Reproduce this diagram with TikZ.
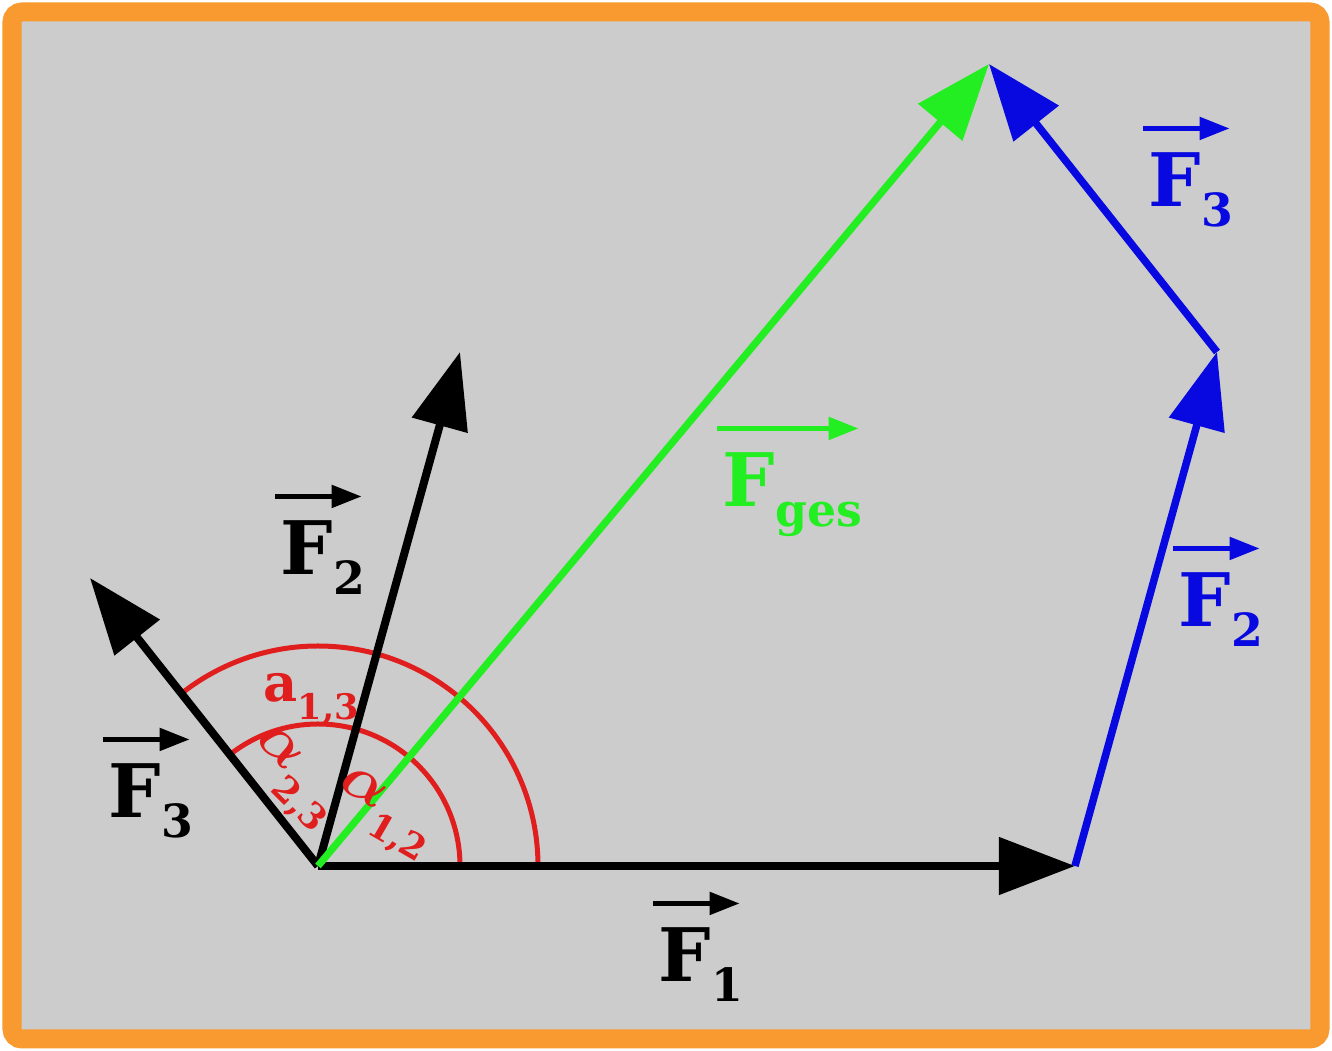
\documentclass[tikz,border=0pt]{standalone}
\usepackage{bm}
\usepackage{fontspec}
\setmainfont{DejaVu Serif}
\usetikzlibrary{arrows.meta}
\definecolor{frameOrange}{HTML}{F89A30}
\definecolor{paperGray}{HTML}{CCCCCC}
\definecolor{forceGreen}{HTML}{22EE22}
\definecolor{forceBlue}{HTML}{0808E0}
\definecolor{angleRed}{HTML}{E01E1E}
\newcommand{\forcename}[1]{F\raisebox{-5.5pt}{\fontsize{13}{13}\selectfont #1}}
\newcommand{\anglename}[3]{#1\raisebox{#3}{\fontsize{10}{10}\selectfont #2}}

\begin{document}
\begin{tikzpicture}[x=0.01cm, y=0.01cm,
    force/.style={line width=0.08cm, -{Triangle[length=0.76cm, width=0.56cm]}},
    forcelabel/.style={anchor=base west, inner sep=0pt, font=\fontsize{21}{24}\selectfont\bfseries},
    labelarrow/.style={line width=0.05cm, -{Triangle[length=0.3cm, width=0.22cm]}},
    anglearc/.style={angleRed, line width=0.05cm},
    anglelabel/.style={text=angleRed, inner sep=0pt, font=\bfseries}]
    \useasboundingbox (0,0) rectangle (1332,1051);
    \draw[frameOrange, line width=0.19cm, fill=paperGray, rounded corners=0.1cm] (12,12) rectangle (1320,1039);

    % vector ends
    \coordinate (O) at (318,185);
    \coordinate (F1tip) at (1075,185);
    \coordinate (F2tip) at (460,699);
    \coordinate (F3tip) at (90,473);
    \coordinate (C2) at (1217,699);
    \coordinate (Top) at (989,987);

    % angle arcs
    \draw[anglearc] ([shift={(0:142)}]O) arc[start angle=0, end angle=128.4, radius=142];
    \draw[anglearc] ([shift={(0:220)}]O) arc[start angle=0, end angle=128.4, radius=220];

    % forces at the origin
    \draw[force] (O) -- (F1tip);
    \draw[force] (O) -- (F2tip);
    \draw[force] (O) -- (F3tip);
    \draw[force, forceGreen, line width=0.072cm] (O) -- (Top);

    % polygon of forces
    \draw[force, forceBlue, line width=0.075cm] (F1tip) -- (C2);
    \draw[force, forceBlue, line width=0.075cm] (C2) -- (Top);

    % labels
    \node[forcelabel] (lF1) at (658,69) {\forcename{1}};
    \node[forcelabel] (lF2) at (280,476) {\forcename{2}};
    \node[forcelabel] (lF3) at (108,233) {\forcename{3}};
    \node[forcelabel, text=forceGreen] (lFges) at (722,544) {\forcename{ges}};
    \node[forcelabel, text=forceBlue] (lF3b) at (1148,844) {\forcename{3}};
    \node[forcelabel, text=forceBlue] (lF2b) at (1178,424) {\forcename{2}};
    \foreach \n/\c in {lF1/black, lF2/black, lF3/black, lFges/forceGreen, lF3b/forceBlue, lF2b/forceBlue}{
      \draw[labelarrow, \c] ([shift={(-5,24)}]\n.north west) -- ([shift={(-4,24)}]\n.north east);
    }

    \node[anglelabel, anchor=base west] (a13) at (263,349) {\fontsize{15}{15}\selectfont\anglename{a}{1,3}{-5pt}};
    \node[anglelabel, rotate=-45] (a23) at (291,271) {\fontsize{17}{17}\selectfont\anglename{$\bm{\alpha}$}{2,3}{-7pt}};
    \node[anglelabel, rotate=-30] (a12) at (383,235) {\fontsize{17}{17}\selectfont\anglename{$\bm{\alpha}$}{1,2}{-7pt}};
  \end{tikzpicture}
\end{document}
